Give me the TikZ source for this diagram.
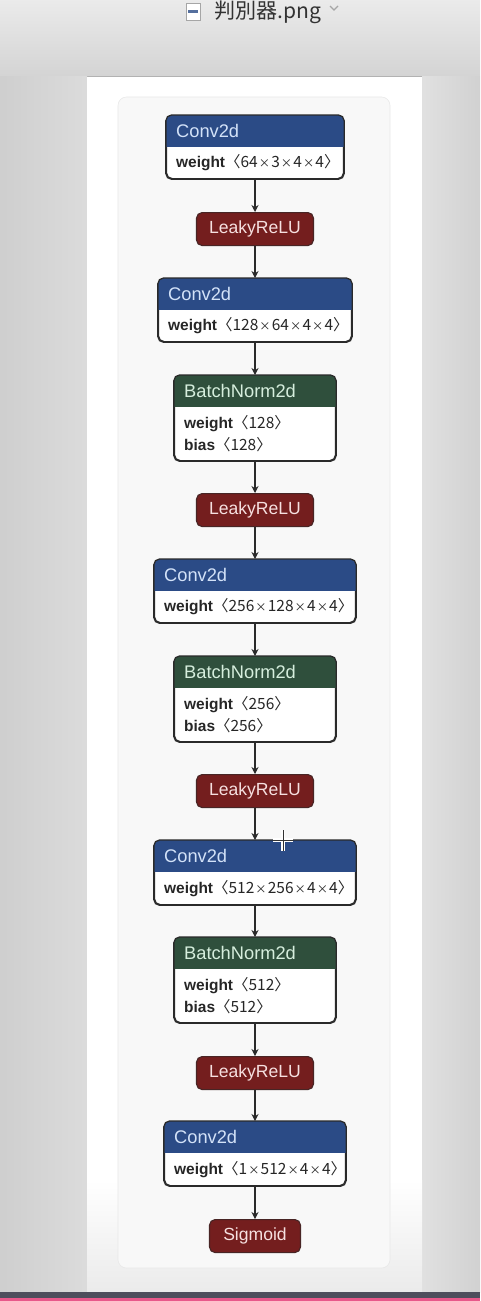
\documentclass[tikz,border=0pt]{standalone}
\usepackage{fontspec}
\setmainfont{Liberation Sans}
\newfontfamily\cjk{Noto Sans CJK SC}
\usetikzlibrary{positioning,arrows.meta}

\definecolor{convblue}{HTML}{2B4B86}
\definecolor{normgreen}{HTML}{2F4F3C}
\definecolor{actred}{HTML}{741E1E}
\definecolor{convtext}{HTML}{D3E2F8}
\definecolor{normtext}{HTML}{D6EEDD}
\definecolor{acttext}{HTML}{F6E0E0}
\definecolor{edgegray}{HTML}{2A2A2A}
\definecolor{panelgray}{HTML}{F8F8F8}
\definecolor{paneledge}{HTML}{E8E8E8}
\definecolor{sidegray}{HTML}{D4D4D4}
\definecolor{stripdark}{HTML}{4E4E5C}
\definecolor{strippink}{HTML}{E8588A}

\newlength{\pxu}
\setlength{\pxu}{0.025cm}

\tikzset{
  blockbox/.style={draw=edgegray, line width=0.9pt, rounded corners=4pt, fill=white, inner sep=0pt},
  actbox/.style={draw=edgegray!60!actred, line width=0.8pt, rounded corners=4pt, fill=actred,
    text=acttext, font=\fontsize{12.5}{14}\selectfont, minimum height=33*\pxu, inner sep=0pt, anchor=north},
  headtext/.style={font=\fontsize{13}{14}\selectfont, inner sep=0pt, anchor=west},
  bodytext/.style={font=\fontsize{11}{12}\selectfont, inner sep=0pt, anchor=west, text=black!85},
  flow/.style={-{Stealth[length=5pt,width=5pt]}, draw=edgegray, line width=0.8pt},
}

% layer box: name, top, width, body height, fill, text colour, title
\newcommand{\netblock}[7]{%
  \node[blockbox, minimum width=#3*\pxu, minimum height=(32+#4)*\pxu, anchor=north] (#1) at (255,#2) {};
  \begin{scope}
    \clip[rounded corners=4pt] (#1.north west) rectangle (#1.south east);
    \fill[#5] (#1.north west) rectangle ([yshift=-32*\pxu]#1.north east);
  \end{scope}
  \draw[edgegray, line width=0.9pt, rounded corners=4pt] (#1.north west) rectangle (#1.south east);
  \node[headtext, text=#6] (#1-title) at ([xshift=10*\pxu, yshift=-16*\pxu]#1.north west) {#7};
}
\newcommand{\tms}{\hspace{0.8pt}{\fontsize{8}{8}\selectfont ×}\hspace{0.8pt}}
\newcommand{\shp}[1]{\textbf{weight}\cjk{〈}#1\cjk{〉}}
\newcommand{\param}[2]{\textbf{#1}\cjk{〈}#2\cjk{〉}}

\begin{document}
\begin{tikzpicture}[x=0.025cm, y=-0.025cm]
  \useasboundingbox (0,0) rectangle (480,1301);

  % window
  \fill[sidegray] (0,0) rectangle (480,1301);
  \shade[top color=black!8, bottom color=black!17] (0,0) rectangle (480,76);
  \draw[black!30] (0,76) -- (480,76);
  \shade[left color=black!19, right color=black!14] (0,77) rectangle (87,1292);
  \shade[left color=black!12, right color=black!18] (422,77) rectangle (480,1292);
  \fill[white] (87,77) rectangle (422,1180);
  \shade[top color=white, bottom color=black!8] (87,1180) rectangle (422,1292);
  \fill[stripdark] (0,1292) rectangle (480,1298);
  \fill[strippink] (0,1298) rectangle (480,1301);

  % title
  \fill[white, draw=black!35, line width=0.3pt] (186,3) rectangle (200,20);
  \fill[convblue!80] (188,10) rectangle (198,13);
  \node[text=black!80, inner sep=0pt] (title) at (268,12) {\cjk\fontsize{15}{15}\selectfont 判別器.png};
  \draw[black!35, line width=0.8pt] (330,6) -- (334,10) -- (338,6);

  % panel
  \draw[draw=paneledge, fill=panelgray, rounded corners=6pt] (118,97) rectangle (390,1268);

  % layers
  \netblock{c1}{115}{177}{31}{convblue}{convtext}{Conv2d}
  \node[bodytext] (c1-w) at ([xshift=10*\pxu, yshift=-48*\pxu]c1.north west) {\shp{64\tms 3\tms 4\tms 4}};
  \node[actbox, minimum width=117*\pxu] (l1) at (255,212) {LeakyReLU};

  \netblock{c2}{278}{193}{31}{convblue}{convtext}{Conv2d}
  \node[bodytext] (c2-w) at ([xshift=10*\pxu, yshift=-48*\pxu]c2.north west) {\shp{128\tms 64\tms 4\tms 4}};

  \netblock{b1}{375}{161}{53}{normgreen}{normtext}{BatchNorm2d}
  \node[bodytext] (b1-w) at ([xshift=10*\pxu, yshift=-49*\pxu]b1.north west) {\param{weight}{128}};
  \node[bodytext] (b1-b) at ([xshift=10*\pxu, yshift=-70*\pxu]b1.north west) {\param{bias}{128}};
  \node[actbox, minimum width=117*\pxu] (l2) at (255,493) {LeakyReLU};

  \netblock{c3}{559}{201}{31}{convblue}{convtext}{Conv2d}
  \node[bodytext] (c3-w) at ([xshift=10*\pxu, yshift=-48*\pxu]c3.north west) {\shp{256\tms 128\tms 4\tms 4}};

  \netblock{b2}{656}{161}{53}{normgreen}{normtext}{BatchNorm2d}
  \node[bodytext] (b2-w) at ([xshift=10*\pxu, yshift=-49*\pxu]b2.north west) {\param{weight}{256}};
  \node[bodytext] (b2-b) at ([xshift=10*\pxu, yshift=-70*\pxu]b2.north west) {\param{bias}{256}};
  \node[actbox, minimum width=117*\pxu] (l3) at (255,774) {LeakyReLU};

  \netblock{c4}{840}{201}{32}{convblue}{convtext}{Conv2d}
  \node[bodytext] (c4-w) at ([xshift=10*\pxu, yshift=-49*\pxu]c4.north west) {\shp{512\tms 256\tms 4\tms 4}};

  \netblock{b3}{937}{161}{53}{normgreen}{normtext}{BatchNorm2d}
  \node[bodytext] (b3-w) at ([xshift=10*\pxu, yshift=-49*\pxu]b3.north west) {\param{weight}{512}};
  \node[bodytext] (b3-b) at ([xshift=10*\pxu, yshift=-70*\pxu]b3.north west) {\param{bias}{512}};
  \node[actbox, minimum width=117*\pxu] (l4) at (255,1056) {LeakyReLU};

  \netblock{c5}{1121}{181}{32}{convblue}{convtext}{Conv2d}
  \node[bodytext] (c5-w) at ([xshift=10*\pxu, yshift=-49*\pxu]c5.north west) {\shp{1\tms 512\tms 4\tms 4}};
  \node[actbox, minimum width=91*\pxu] (s1) at (255,1219) {Sigmoid};

  % edges
  \draw[flow] (c1) -- (l1);
  \draw[flow] (l1) -- (c2);
  \draw[flow] (c2) -- (b1);
  \draw[flow] (b1) -- (l2);
  \draw[flow] (l2) -- (c3);
  \draw[flow] (c3) -- (b2);
  \draw[flow] (b2) -- (l3);
  \draw[flow] (l3) -- (c4);
  \draw[flow] (c4) -- (b3);
  \draw[flow] (b3) -- (l4);
  \draw[flow] (l4) -- (c5);
  \draw[flow] (c5) -- (s1);

  % cursor
  \draw[white, line width=2.4pt] (283,830) -- (283,851) (273,840) -- (293,840);
  \draw[black!80, line width=0.7pt] (283,830) -- (283,851) (273,840) -- (293,840);
\end{tikzpicture}
\end{document}
